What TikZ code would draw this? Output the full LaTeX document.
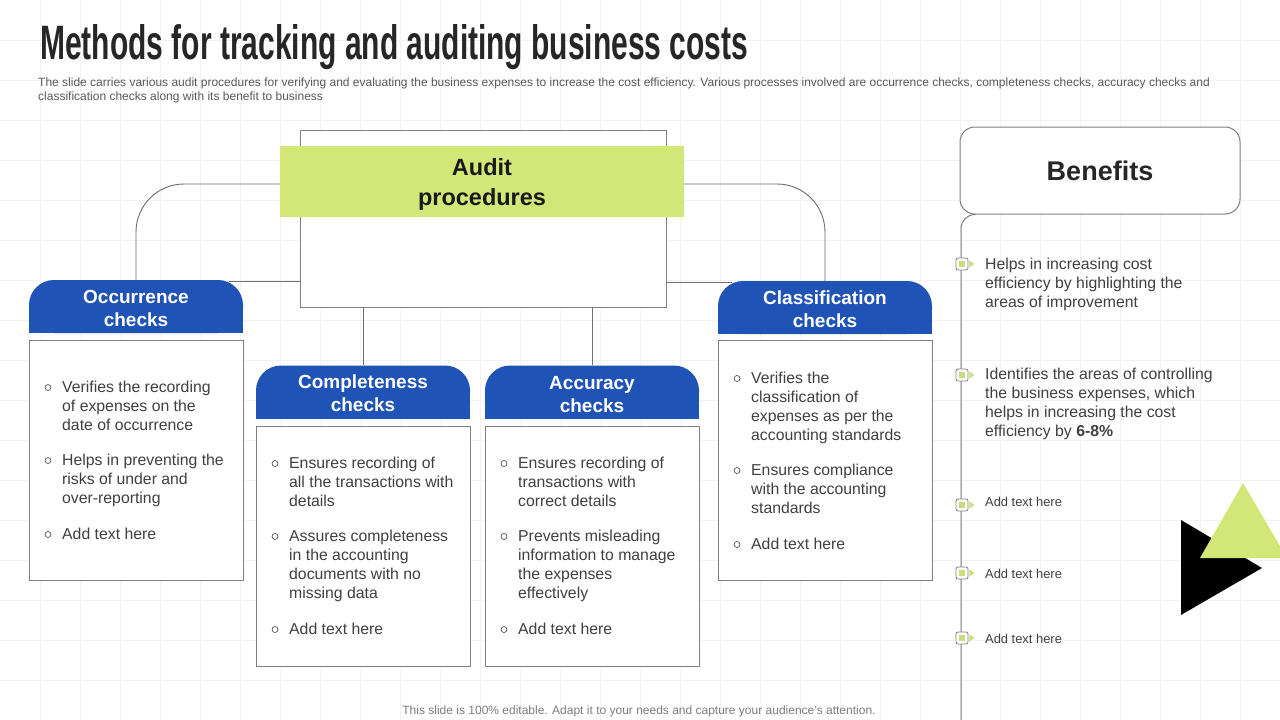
\documentclass[tikz,border=0pt]{standalone}
\usepackage{fontspec}
\setmainfont{Liberation Sans}
\usepackage{graphicx}
\usetikzlibrary{calc}
\definecolor{hdrblue}{RGB}{31,83,181}
\definecolor{lime}{RGB}{211,231,120}
\definecolor{mkgreen}{RGB}{200,222,120}
\definecolor{boxgray}{RGB}{128,128,128}
\definecolor{connc}{RGB}{110,110,110}
\definecolor{txt}{RGB}{64,64,64}
\definecolor{gridc}{RGB}{242,242,242}
\definecolor{titlec}{RGB}{38,38,38}
\definecolor{subc}{RGB}{89,89,89}
\definecolor{footc}{RGB}{125,125,125}
\newcommand\hdrshape[2]{%
  \fill[hdrblue, rounded corners=25pt] (#1-107,#2-26.5) rectangle (#1+107,#2+26.5);
  \fill[hdrblue] (#1-107,#2) rectangle (#1+107,#2+26.5);}
\newcommand\bitem[4]{%
  \draw[bul] (#1-14,#2+1.5) circle (3pt);
  \node[btext] (#3) at (#1,#2-5.5) {#4};}
\begin{document}
\begin{tikzpicture}[x=1pt,y=-1pt,
  gridline/.style={draw=gridc, line width=0.8pt},
  conn/.style={draw=connc, line width=0.9pt},
  hdr/.style={minimum width=214pt, minimum height=53pt, inner sep=0pt},
  hdrtext/.style={inner sep=0pt, align=center, text=white, font=\bfseries\fontsize{19}{23}\selectfont},
  cbox/.style={draw=boxgray, fill=white, line width=1pt, minimum width=214pt, minimum height=240pt, inner sep=0pt},
  btext/.style={anchor=north west, align=left, inner sep=0pt, text=txt, font=\fontsize{15.8}{19}\selectfont},
  bul/.style={draw=txt, line width=0.6pt},
  smalltext/.style={anchor=north west, align=left, inner sep=0pt, text=txt, font=\fontsize{12.9}{16}\selectfont},
  mk/.style={draw=boxgray, fill=white, rounded corners=2pt, minimum size=12pt, inner sep=0pt, line width=0.8pt},
  tl/.style={draw=boxgray, line width=1pt}]
\useasboundingbox (0,0) rectangle (1280,720);
\fill[white] (0,0) rectangle (1280,720);
\foreach \gx in {40,80,...,1240} \draw[gridline] (\gx,0) -- (\gx,720);
\foreach \gy in {40,80,...,680} \draw[gridline] (0,\gy) -- (1280,\gy);

% title
\node[anchor=base west, inner sep=0pt, text=titlec] (title) at (40,59)
  {\resizebox{708pt}{35pt}{\bfseries Methods for tracking and auditing business costs}};
\node[anchor=base west, inner sep=0pt, text=subc, font=\fontsize{12}{14}\selectfont] (sub1) at (38,86)
  {The slide carries various audit procedures for verifying and evaluating the business expenses to increase the cost efficiency. Various processes involved are occurrence checks, completeness checks, accuracy checks and};
\node[anchor=base west, inner sep=0pt, text=subc, font=\fontsize{12}{14}\selectfont] (sub2) at (38,100)
  {classification checks along with its benefit to business};

% audit procedures
\node[draw=boxgray, fill=white, line width=1pt, minimum width=366pt, minimum height=177pt, inner sep=0pt] (audit) at (483,218.5) {};
\node[fill=lime, minimum width=404pt, minimum height=71pt, inner sep=0pt] (label) at (482,181.5) {};
\node[inner sep=0pt, align=center, text=black!90, font=\bfseries\fontsize{23.5}{30}\selectfont] (labeltext) at ($(label.center)+(0,2.5)$) {Audit\\procedures};

% headers
\hdrshape{136}{306.5}
\hdrshape{363}{392}
\hdrshape{592}{392}
\hdrshape{825}{307.5}
\node[hdr] (occh) at (136,306.5) {};
\node[hdr] (comph) at (363,392) {};
\node[hdr] (acch) at (592,392) {};
\node[hdr] (clah) at (825,307.5) {};
\node[hdrtext] (occt) at ($(occh.center)+(0,2)$) {Occurrence\\checks};
\node[hdrtext] (compt) at ($(comph.center)+(0,1)$) {Completeness\\checks};
\node[hdrtext] (acct) at ($(acch.center)+(0,2.5)$) {Accuracy\\checks};
\node[hdrtext] (clat) at ($(clah.center)+(0,1.5)$) {Classification\\checks};

% content boxes
\node[cbox] (occb) at (136,460) {};
\node[cbox] (compb) at (363,546) {};
\node[cbox] (accb) at (592,546) {};
\node[cbox] (clab) at (825,460) {};

% connectors
\draw[conn, rounded corners=48pt] ($(label.west)+(0,2.5)$) -| (occh.north);
\draw[conn, rounded corners=48pt] ($(label.east)+(0,2.5)$) -| (clah.north);
\draw[conn] ($(audit.west |- occh.north)+(0,2)$) -- ($(occh.north east)+(-14,2)$);
\draw[conn] ($(audit.east |- clah.north)+(0,2)$) -- ($(clah.north west)+(14,2)$);
\draw[conn] (comph.north |- audit.south) -- (comph.north);
\draw[conn] (acch.north |- audit.south) -- (acch.north);

% occurrence items
\bitem{62}{386}{o1}{Verifies the recording\\of expenses on the\\date of occurrence}
\bitem{62}{459}{o2}{Helps in preventing the\\risks of under and\\over-reporting}
\bitem{62}{533}{o3}{Add text here}
% completeness items
\bitem{289}{462}{c1}{Ensures recording of\\all the transactions with\\details}
\bitem{289}{535}{c2}{Assures completeness\\in the accounting\\documents with no\\missing data}
\bitem{289}{628}{c3}{Add text here}
% accuracy items
\bitem{518}{462}{a1}{Ensures recording of\\transactions with\\correct details}
\bitem{518}{535}{a2}{Prevents misleading\\information to manage\\the expenses\\effectively}
\bitem{518}{628}{a3}{Add text here}
% classification items
\bitem{751}{377}{k1}{Verifies the\\classification of\\expenses as per the\\accounting standards}
\bitem{751}{469}{k2}{Ensures compliance\\with the accounting\\standards}
\bitem{751}{543}{k3}{Add text here}

% benefits
\node[draw=boxgray, fill=white, line width=1pt, rounded corners=15pt, minimum width=280pt, minimum height=87pt, inner sep=0pt, text=titlec, font=\bfseries\fontsize{27}{32}\selectfont] (ben) at (1100,170.5) {Benefits};
\coordinate (tlend) at (961,720);
\draw[tl, rounded corners=14pt] ($(ben.south west)+(16,0)$) -| (tlend);
\node[mk] (m1) at (962,264) {};
\node[mk] (m2) at (962,375) {};
\node[mk] (m3) at (962,505) {};
\node[mk] (m4) at (962,573) {};
\node[mk] (m5) at (962,638) {};
\foreach \m in {m1,m2,m3,m4,m5}{
  \fill[mkgreen] ($(\m.center)+(-3,-3)$) rectangle ($(\m.center)+(3,3)$);
  \fill[mkgreen] ($(\m.east)+(1,-3.5)$) -- ($(\m.east)+(6,0)$) -- ($(\m.east)+(1,3.5)$) -- cycle;
}
\node[btext] (b1) at (985,263-5.5) {Helps in increasing cost\\efficiency by highlighting the\\areas of improvement};
\node[btext] (b2) at (985,373-5.5) {Identifies the areas of controlling\\the business expenses, which\\helps in increasing the cost\\efficiency by \textbf{6-8\%}};
\node[smalltext] (b3) at (985,501-4.3) {Add text here};
\node[smalltext] (b4) at (985,573-4.3) {Add text here};
\node[smalltext] (b5) at (985,638-4.3) {Add text here};

% decorative triangles
\fill[black] (1181,520) -- (1262,568) -- (1181,615) -- cycle;
\fill[lime] (1243,483) -- (1287,558) -- (1200,558) -- cycle;

% footer
\node[anchor=base, inner sep=0pt, text=footc, font=\fontsize{12}{14}\selectfont] (foot) at (639,714)
  {This slide is 100\% editable. Adapt it to your needs and capture your audience's attention.};
\end{tikzpicture}
\end{document}
